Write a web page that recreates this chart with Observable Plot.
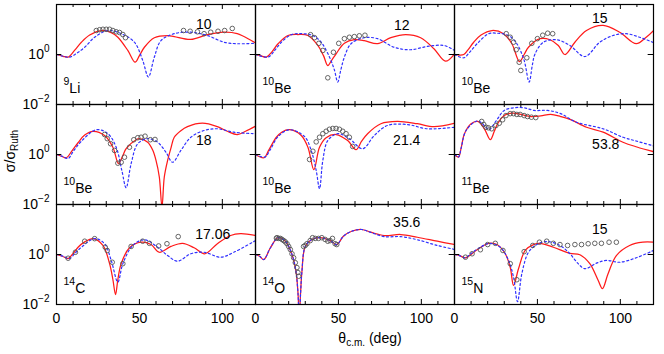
<!DOCTYPE html>
<html>
<head>
<meta charset="utf-8">
<script src="https://cdn.jsdelivr.net/npm/d3@7"></script>
<script src="https://cdn.jsdelivr.net/npm/@observablehq/plot@0.6"></script>
<style>
  html, body { margin: 0; padding: 0; background: #fff; }
</style>
</head>
<body>
<div id="chart"></div>
<script>
// ---- Data: [theta_cm (deg), sigma/sigma_Ruth] ----
// 9Li @ 10
const li9_10_red  = [[0,1],[4,0.85],[7,0.79],[11,1.5],[15,3.1],[20,6.0],[27,9.1],[33,7.5],[37,4.9],[43,1.45],[47.4,0.49],[50,0.9],[53,1.95],[59,4.7],[67,5.75],[71,5.2],[81,4.0],[91,6.2],[101,7.8],[109,6.8],[120,2.9]];
const li9_10_blue = [[0,1],[4,0.85],[8,0.79],[12,1.1],[17,1.95],[23,4.9],[31,9.1],[39,6.8],[47,3.1],[52,0.58],[55.4,0.126],[59,0.79],[63,3.6],[71,6.8],[81,7.8],[91,5.75],[101,3.1],[109,2.7],[120,2.8]];
const li9_10_exp  = [[24,9.1],[26,9.8],[28,10.2],[30,10.2],[32,10.2],[34,9.1],[36,8.1],[38,7.6],[40,6.3],[41.6,4.7],[76.6,9.1],[80.6,8.5],[85,8.1],[89,6.8],[93,7.8],[97.4,8.5],[101.4,9.1],[106,11]];
// 10Be @ 12
const be10_12_red  = [[0,1],[3,0.9],[6.6,0.79],[10,1.3],[13.6,2.7],[19.6,5.75],[25.6,6.3],[31.6,5.75],[37.6,2.3],[41,0.9],[43.6,0.36],[46,0.6],[48.6,1.07],[53.6,2.8],[59.6,3.9],[65.6,3.6],[73.6,2.7],[81.6,4.7],[90.6,6.3],[99.6,4.7],[107.6,1.7],[114.6,0.54],[120,1.07]];
const be10_12_blue = [[0,1],[7.6,0.79],[11,1.3],[15.6,3.1],[21.6,6.2],[27.6,6.8],[34.6,5.75],[39.6,3.1],[44.6,0.79],[47.5,0.25],[49.6,0.079],[51.5,0.25],[53.6,0.79],[57.6,2.7],[65.6,4.7],[73.6,4.3],[83.6,1.95],[93.6,1.55],[103.6,2.1],[113.6,2.3],[120,1.45]];
const be10_12_exp  = [[33.2,6.2],[35.6,4.7],[38.2,2.8],[40.6,1.45],[43.6,0.117],[47,1.23],[50.2,2.8],[53.6,4.3],[56.6,4.9],[59.6,5.2],[62.6,5.6],[66,5.9]];
// 10Be @ 15
const be10_15_red  = [[0,1],[3,0.95],[5.6,1.0],[8,1.5],[11.6,3.1],[16,6.0],[22.6,9.1],[29.6,6.8],[34.6,2.7],[39.2,0.52],[42,1.0],[44.6,1.95],[51.6,4.3],[57.6,3.9],[62.6,2.3],[66.6,1.0],[72.6,3.1],[79.6,9.1],[89.6,14.5],[99.6,7.8],[109.6,2.7],[115.6,4.9],[120,9.1]];
const be10_15_blue = [[0,1],[5.6,0.74],[9,1.2],[13.6,2.7],[20.6,6.8],[25.6,7.1],[32.6,5.75],[37.6,2.7],[42,0.58],[45,0.079],[47,0.4],[48.6,1.07],[53.6,3.1],[61.6,3.9],[69.6,2.3],[78.6,0.83],[87.6,3.1],[95.6,5.75],[103.6,6.8],[111.6,4.9],[120,3.0]];
const be10_15_exp  = [[31.2,6.8],[33.6,4.9],[35.6,3.1],[37.2,1.55],[39,0.49],[40,0.23],[43.6,0.74],[46.6,2.8],[50,4.3],[53.2,5.9],[56.2,7.1],[59.2,6.8]];
// 10Be @ 18
const be10_18_red  = [[0,1],[3,0.85],[6,0.74],[9,1.3],[13,2.95],[17,6.0],[22,8.5],[29,5.75],[34,1.95],[37.4,0.43],[40,0.9],[42,1.7],[48,3.9],[50,4.3],[55,3.1],[58,1.5],[60,0.58],[62,0.126],[63.6,0.008],[65,0.126],[67,0.58],[69,1.8],[71,4.9],[75,9.0],[79,13],[88,17.8],[97,13],[103,8.5],[109,6.3],[114,8.5],[120,13.5]];
const be10_18_blue = [[0,1],[3.5,0.85],[7,0.69],[10,1.3],[15,3.4],[24,9.8],[31,6.8],[36,1.95],[39.4,0.23],[42,0.047],[45,0.43],[49,2.7],[55,4.3],[61,3.1],[66,1.23],[70,0.49],[75,1.45],[81,4.9],[89,9.1],[97,10.7],[107,7.8],[120,6.8]];
const be10_18_exp  = [[29,6.3],[30.6,4.3],[32.6,2.7],[35,1.45],[37,0.45],[39,0.49],[41,0.78],[44,1.95],[46.6,3.9],[49,4.7],[51,4.9],[53.4,5.4],[56.6,3.9],[59.4,4.0]];
// 10Be @ 21.4
const be10_21_red  = [[0,1],[5.2,0.74],[8,1.5],[12.6,4.9],[16,8.0],[20.6,9.8],[27.6,5.75],[31.6,1.95],[35.2,0.25],[38.6,1.95],[42.6,4.7],[48.6,6.3],[55.6,3.6],[60.6,1.55],[64,3.4],[67.6,6.8],[75.6,17],[85.6,21],[97.6,17],[107.6,13],[120,17.8]];
const be10_21_blue = [[0,1],[5.6,0.79],[9,1.6],[13.6,5.2],[20.6,9.8],[29.6,5.2],[33.6,1.45],[36.6,0.23],[38.6,0.043],[40.6,0.58],[43.6,3.6],[49.6,6.8],[56.6,4.3],[64.6,1.7],[71.6,5.75],[79.6,14.5],[91.6,15.8],[103.6,10.7],[120,12.3]];
const be10_21_exp  = [[32.6,0.63],[34.6,1.35],[36.6,3.2],[38.6,4.9],[40.6,6.8],[42.6,8.5],[44.6,10.2],[46.6,11],[48.6,11],[50.6,10.2],[52.6,8.5],[54.6,6.8],[56.6,4.9],[58.6,2.1]];
// 11Be @ 53.8
const be11_54_red  = [[0,1],[2.4,0.79],[4,1.8],[6,6.8],[10,17],[14,21],[18,10.7],[21.6,3.9],[24,8.5],[26,17],[30,36],[35,45],[40,40],[46,33],[52,35],[58,40],[64,33],[70,25],[79.6,12.3],[89.6,7.8],[101.6,3.1],[110,2.0],[120,1.3]];
const be11_54_blue = [[0,1],[2.4,0.8],[4,1.8],[7,9.1],[14,22],[19,12.3],[21,9.8],[23,14],[26,27],[30,58],[36,74],[42,74],[48,58],[56,58],[64,43],[73.6,19.5],[89.6,10.7],[101.6,4.9],[110,3.4],[120,2.2]];
const be11_54_exp  = [[16.4,21],[17.6,16],[19,12.3],[20.4,11.7],[22.4,10.7],[25,14.5],[27,17.8],[29,24.5],[31,36],[33.6,43],[35.6,43],[37.6,40],[39.6,40],[42,36],[44,33],[46.4,31],[49,30]];
// 14C @ 17.06
const c14_17_red  = [[0,1],[3.5,0.85],[7,0.69],[10,1.1],[13,1.95],[17,3.2],[22,4.3],[28,2.3],[32,0.43],[34,0.1],[35.6,0.025],[37,0.1],[39,0.43],[44,1.86],[51,3.1],[57,2.5],[62,1.23],[69,2.1],[76,2.8],[83,1.86],[89.4,1.07],[97,2.7],[105,5.75],[111,6.8],[120,5.75]];
const c14_17_blue = [[0,1],[4,0.85],[8,0.69],[11,1.1],[15,1.95],[23,4.3],[29,2.7],[33,0.58],[37,0.079],[40,0.43],[46,2.3],[53,3.9],[61,1.95],[67,0.91],[73,0.54],[81,1.07],[89,1.23],[99,0.78],[107,1.23],[120,3.6]];
const c14_17_exp  = [[7,0.71],[11.4,1.23],[17,3.4],[23,4.3],[29.4,1.95],[30.6,1.45],[33.6,0.49],[40,0.43],[45,2.1],[52,3.4],[56,2.8],[61.6,2.2],[66.6,2.7],[73.4,5.2]];
// 14O @ 35.6
const o14_36_red  = [[0,1],[2.5,0.85],[5,0.63],[9,1.86],[13.6,4.7],[18,3.4],[22,1.0],[24.4,0.21],[25.6,0.03],[26.4,0.003],[27.2,0.03],[28,0.21],[30,2.1],[34,4.0],[39,4.7],[45,3.6],[49,2.5],[53,5.4],[58,8.5],[64,10],[69.6,7.8],[77.6,5.75],[87.6,6.3],[97.6,4.9],[109.6,3.4],[120,2.5]];
const o14_36_blue = [[0,1],[2.5,0.85],[5,0.63],[9,1.86],[13.6,4.7],[18,3.4],[22,1.0],[24.4,0.21],[25.6,0.03],[26.4,0.003],[27.2,0.03],[28,0.21],[30,2.1],[34,4.0],[39,4.7],[45,3.6],[49,2.5],[53,5.4],[58,8.5],[64,10],[69.6,7.6],[77.6,5.2],[87.6,5.2],[97.6,3.9],[109.6,2.3],[120,1.6]];
const o14_36_exp  = [[12.6,4.5],[13,4.7],[14,4.4],[15,4.4],[16,4.0],[17,3.6],[18,3.2],[19,2.7],[20,2.1],[21,1.58],[22,1.07],[23,0.74],[24,0.47],[25,0.3],[25.6,0.19],[26,0.135],[29,2.1],[30,2.3],[31,2.7],[33,3.6],[34.4,4.7],[36,4.4],[38,4.4],[40,4.7],[42,4.0],[43.6,3.4],[45,3.6],[46.4,4.4],[48,2.7],[49,2.5]];
// 15N @ 15
const n15_15_red  = [[0,1],[3,0.9],[6.6,0.74],[10,1.0],[13.6,1.55],[20.6,2.8],[25.6,2.5],[30.6,1.07],[33.6,0.31],[35.6,0.058],[38.6,0.27],[42.6,1.45],[47.6,2.5],[51.6,2.8],[59.6,1.95],[69.6,1.12],[75.6,0.98],[81.6,0.43],[86.6,0.093],[89.2,0.043],[92.6,0.17],[97.6,0.91],[105.6,2.3],[113.6,3.1],[120,3.1]];
const n15_15_blue = [[0,1],[3,0.9],[6.6,0.74],[10,1.1],[15.6,1.95],[21,2.8],[27.6,1.95],[32.6,0.58],[35.6,0.123],[38,0.013],[40.6,0.17],[44.6,1.23],[49.6,2.5],[55.6,3.3],[63.6,2.3],[69.6,1.07],[74.6,0.43],[78.6,0.27],[85.6,0.45],[91.6,0.58],[99.6,0.49],[109.6,0.74],[120,1.45]];
const n15_15_exp  = [[6.6,0.78],[10.6,1.07],[15.6,1.55],[20,2.5],[24.6,2.8],[29.2,1.45],[33.6,0.43],[37.6,0.098],[42,1.3],[47.2,2.3],[51.2,3.1],[55.6,3.4],[59.6,2.8],[63.6,2.5],[68.2,2.3],[72.6,2.5],[76.6,2.5],[80.6,2.7],[84.6,2.8],[88.6,2.8],[93.2,3.1],[97.6,3.1]];

// Panel labels
const massNumbers = [9, 10, 10, 10, 10, 11, 14, 14, 15];
const elements    = ["Li", "Be", "Be", "Be", "Be", "Be", "C", "O", "N"];
const energies    = ["10", "12", "15", "18", "21.4", "53.8", "17.06", "35.6", "15"];
// energy label anchor in data coordinates [theta, sigma/sigma_R]
const energyLabelAt = [[88.8,15.5],[88.2,14.5],[87.6,27.5],[88.8,3.6],[91.2,3.6],[91.2,2.5],[94.2,6.3],[91.2,19],[87.6,10]];
// axis ticks
const xTickLabels = [0, 50, 100];
const xMinorTicks = [10, 20, 30, 40, 60, 70, 80, 90, 110];
const xMajorTicks = [50, 100];
const yTickLabels = [0.01, 1];

const reds  = [li9_10_red, be10_12_red, be10_15_red, be10_18_red, be10_21_red, be11_54_red, c14_17_red, o14_36_red, n15_15_red];
const blues = [li9_10_blue, be10_12_blue, be10_15_blue, be10_18_blue, be10_21_blue, be11_54_blue, c14_17_blue, o14_36_blue, n15_15_blue];
const exps  = [li9_10_exp, be10_12_exp, be10_15_exp, be10_18_exp, be10_21_exp, be11_54_exp, c14_17_exp, o14_36_exp, n15_15_exp];

// Build tables
const toRows = (arrs) => arrs.flatMap((arr, i) => arr.map(([theta, v]) => ({panel: i, col: i % 3, row: Math.floor(i / 3), theta, v})));
const redRows = toRows(reds);
const blueRows = toRows(blues);
const expRows = toRows(exps);
const labelRows = energies.map((e, i) => ({
  col: i % 3, row: Math.floor(i / 3), energy: e,
  nucleus: massNumbers[i] + "|" + elements[i],
  ex: energyLabelAt[i][0], ey: energyLabelAt[i][1]
}));

const W = 664, H = 354, mL = 55, mR = 10, mT = 4, mB = 50;
const facetW = (W - mL - mR) / 3, facetH = (H - mT - mB) / 3;
const font = "'Liberation Sans', Arial, Helvetica, sans-serif";

const plot = Plot.plot({
  width: W, height: H,
  marginLeft: mL, marginRight: mR, marginTop: mT, marginBottom: mB,
  style: {fontFamily: font, fontSize: "14px", background: "#fff", color: "#000", overflow: "visible"},
  fx: {domain: [0, 1, 2], padding: 0, axis: null},
  fy: {domain: [0, 1, 2], padding: 0, axis: null},
  x: {domain: [0, 120]},
  y: {type: "log", domain: [0.01, 100]},
  marks: [
    Plot.line(redRows, {fx: "col", fy: "row", x: "theta", y: "v", z: "panel", stroke: "#ff1a1a", strokeWidth: 1.25, curve: "catmull-rom", clip: true}),
    Plot.line(blueRows, {fx: "col", fy: "row", x: "theta", y: "v", z: "panel", stroke: "#3030ff", strokeWidth: 1.2, strokeDasharray: "2,2.5", curve: "catmull-rom", clip: true}),
    Plot.dot(expRows, {fx: "col", fy: "row", x: "theta", y: "v", r: 2.3, stroke: "#555", strokeWidth: 0.9, fill: "none", clip: true}),
    // inward ticks
    Plot.tickX(xMinorTicks, {x: d => d, insetTop: facetH - 3, stroke: "#000"}),
    Plot.tickX(xMinorTicks, {x: d => d, insetBottom: facetH - 3, stroke: "#000"}),
    Plot.tickX(xMajorTicks, {x: d => d, insetTop: facetH - 5, stroke: "#000"}),
    Plot.tickX(xMajorTicks, {x: d => d, insetBottom: facetH - 5, stroke: "#000"}),
    Plot.tickY([1], {y: d => d, insetRight: facetW - 6, stroke: "#000"}),
    Plot.tickY([1], {y: d => d, insetLeft: facetW - 6, stroke: "#000"}),
    Plot.frame({stroke: "#000", strokeWidth: 1.2}),
    Plot.axisX({anchor: "bottom", ticks: xTickLabels, tickSize: 0, tickPadding: 9, label: null, tickFormat: d => String(d), fontSize: 14}),
    Plot.axisY({anchor: "left", ticks: yTickLabels, tickSize: 0, tickPadding: 7, label: null,
      tickFormat: d => "10^" + String(Math.round(Math.log10(d))).replace("-", "\u2212"), fontSize: 14}),
    Plot.text(labelRows, {fx: "col", fy: "row", x: "ex", y: "ey", text: "energy", textAnchor: "middle", fontSize: 14, fill: "#000"}),
    Plot.text(labelRows, {fx: "col", fy: "row", frameAnchor: "bottom-left", text: "nucleus", textAnchor: "start", lineAnchor: "bottom", dx: 7, dy: -12, fontSize: 14, fill: "#000"})
  ]
});

document.getElementById("chart").appendChild(plot);

const svg = d3.select(plot);
// superscripts: y tick exponents ("10^0") and nucleus mass numbers ("9|Li")
svg.selectAll("text").each(function() {
  const el = d3.select(this);
  const s = el.text();
  if (s.includes("^")) {
    const [base, exp] = s.split("^");
    el.text(null);
    el.append("tspan").text(base);
    el.append("tspan").attr("dy", -7).attr("font-size", 10).text(exp);
  } else if (s.includes("|")) {
    const [mass, elem] = s.split("|");
    el.text(null);
    el.append("tspan").attr("dy", -8).attr("font-size", 10.5).text(mass);
    el.append("tspan").attr("dy", 8).text(elem);
  }
});
// axis titles
const yl = svg.append("text")
  .attr("transform", "translate(15,151) rotate(-90)")
  .attr("text-anchor", "middle")
  .attr("font-family", font).attr("font-size", 14).attr("fill", "#000");
yl.append("tspan").text("\u03c3/\u03c3");
yl.append("tspan").attr("dy", 3).attr("font-size", 10).text("Ruth");

const xl = svg.append("text")
  .attr("x", 370).attr("y", 343)
  .attr("text-anchor", "middle")
  .attr("font-family", font).attr("font-size", 14).attr("fill", "#000");
xl.append("tspan").text("\u03b8");
xl.append("tspan").attr("dy", 3).attr("font-size", 10).text("c.m.");
xl.append("tspan").attr("dy", -3).text(" (deg)");
</script>
</body>
</html>
